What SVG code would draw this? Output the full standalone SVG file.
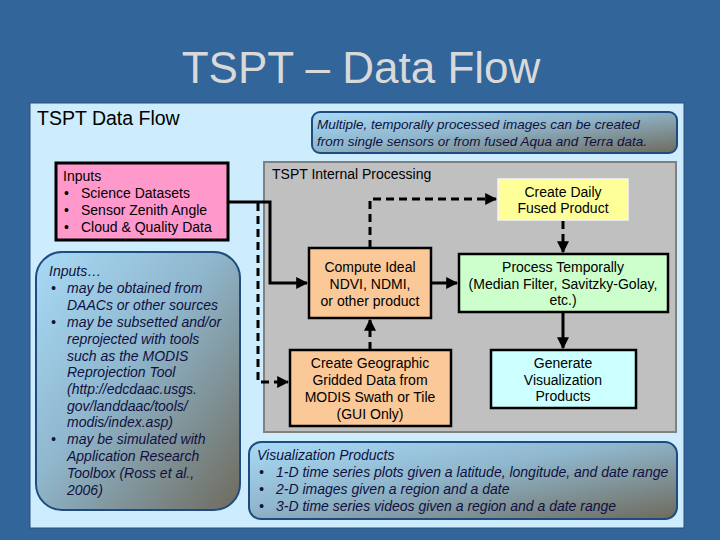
<svg xmlns="http://www.w3.org/2000/svg" width="720" height="540" viewBox="0 0 720 540">
<defs>
<linearGradient id="note" x1="0" y1="0" x2="1" y2="1">
<stop offset="0" stop-color="#A8DAF6"/>
<stop offset="0.45" stop-color="#8FB6CC"/>
<stop offset="1" stop-color="#6E6A5C"/>
</linearGradient>
<marker id="ah" viewBox="0 0 10 10" refX="9" refY="5" markerWidth="4" markerHeight="4" orient="auto" markerUnits="strokeWidth">
<path d="M0,0 L10,5 L0,10 z" fill="#000"/>
</marker>
<style>
text{font-family:"Liberation Sans",Arial,sans-serif;}
.box{stroke:#000;stroke-width:2.5;}
.t{font-size:14px;fill:#000;}
.c{text-anchor:middle;}
.n{font-size:14px;font-style:italic;fill:#101040;}
.rb{fill:url(#note);stroke:#1F4C80;stroke-width:2;}
.s{fill:none;stroke:#000;stroke-width:3;}
.d{fill:none;stroke:#000;stroke-width:3;stroke-dasharray:8,5;}
</style>
</defs>
<rect width="720" height="540" fill="#32659A"/>
<text x="361" y="83" class="c" style="font-size:44px;fill:#D9D9D9">TSPT – Data Flow</text>
<rect x="30" y="103" width="654" height="425" fill="#CDEDFE" stroke="#2A4F78" stroke-width="1"/>
<text x="37" y="125" style="font-size:19.5px;fill:#000">TSPT Data Flow</text>

<g id="note-top">
<rect class="rb" x="312" y="112" width="365" height="41" rx="8"/>
<text class="n" x="317" y="129" style="font-size:13.5px">Multiple, temporally processed images can be created</text>
<text class="n" x="317" y="146" style="font-size:13.5px">from single sensors or from fused Aqua and Terra data.</text>
</g>

<g id="internal">
<rect x="264" y="162" width="412" height="270" fill="#C0C0C0" stroke="#808080" stroke-width="2"/>
<text class="t" x="272" y="179">TSPT Internal Processing</text>
</g>

<g id="inputs">
<rect x="56" y="163" width="172" height="77" fill="#FF99CC" stroke="#000" stroke-width="3"/>
<text class="t" x="63" y="181">Inputs</text>
<text class="t" x="64" y="198">•</text><text class="t" x="81" y="198">Science Datasets</text>
<text class="t" x="64" y="215">•</text><text class="t" x="81" y="215">Sensor Zenith Angle</text>
<text class="t" x="64" y="232">•</text><text class="t" x="81" y="232">Cloud &amp; Quality Data</text>
</g>

<g id="inputs-note">
<rect class="rb" x="36" y="252" width="204" height="258" rx="26"/>
<text class="n" x="49" y="276">Inputs…</text>
<text class="n" x="51" y="293">•</text><text class="n" x="67" y="293">may be obtained from</text>
<text class="n" x="67" y="310">DAACs or other sources</text>
<text class="n" x="51" y="327">•</text><text class="n" x="67" y="327">may be subsetted and/or</text>
<text class="n" x="67" y="344">reprojected with tools</text>
<text class="n" x="67" y="361">such as the MODIS</text>
<text class="n" x="67" y="377">Reprojection Tool</text>
<text class="n" x="67" y="394">(http://edcdaac.usgs.</text>
<text class="n" x="67" y="411">gov/landdaac/tools/</text>
<text class="n" x="67" y="427">modis/index.asp)</text>
<text class="n" x="51" y="444">•</text><text class="n" x="67" y="444">may be simulated with</text>
<text class="n" x="67" y="461">Application Research</text>
<text class="n" x="67" y="478">Toolbox (Ross et al.,</text>
<text class="n" x="67" y="495">2006)</text>
</g>

<g id="create-daily">
<rect x="498" y="179" width="130" height="41" fill="#FFFF99" stroke="#F4F4F4" stroke-width="1.5"/>
<text class="t c" x="563" y="197">Create Daily</text>
<text class="t c" x="563" y="213">Fused Product</text>
</g>

<g id="compute">
<rect class="box" x="309" y="248" width="122" height="70" fill="#FBC897"/>
<text class="t c" x="370" y="272">Compute Ideal</text>
<text class="t c" x="370" y="289">NDVI, NDMI,</text>
<text class="t c" x="370" y="306">or other product</text>
</g>

<g id="process">
<rect class="box" x="459" y="254" width="209" height="58" fill="#CCFFCC"/>
<text class="t c" x="563" y="272">Process Temporally</text>
<text class="t c" x="563" y="289">(Median Filter, Savitzky-Golay,</text>
<text class="t c" x="563" y="305">etc.)</text>
</g>

<g id="geographic">
<rect class="box" x="290" y="350" width="161" height="76" fill="#FBC897"/>
<text class="t c" x="370" y="368">Create Geographic</text>
<text class="t c" x="370" y="385">Gridded Data from</text>
<text class="t c" x="370" y="402">MODIS Swath or Tile</text>
<text class="t c" x="370" y="419">(GUI Only)</text>
</g>

<g id="generate">
<rect class="box" x="491" y="350" width="145" height="58" fill="#CCFFFF"/>
<text class="t c" x="563" y="368">Generate</text>
<text class="t c" x="563" y="385">Visualization</text>
<text class="t c" x="563" y="401">Products</text>
</g>

<g id="vis-note">
<rect class="rb" x="249" y="442" width="428" height="77" rx="12"/>
<text class="n" x="257" y="460">Visualization Products</text>
<text class="n" x="259" y="477">•</text><text class="n" x="276" y="477">1-D time series plots given a latitude, longitude, and date range</text>
<text class="n" x="259" y="494">•</text><text class="n" x="276" y="494">2-D images given a region and a date</text>
<text class="n" x="259" y="511">•</text><text class="n" x="276" y="511">3-D time series videos given a region and a date range</text>
</g>

<g id="connectors">
<path class="s" d="M228,202 H270 V283 H307" marker-end="url(#ah)"/>
<path class="d" d="M258,203 V382 H288" marker-end="url(#ah)"/>
<path class="d" d="M370,248 V199 H496" marker-end="url(#ah)"/>
<path class="d" d="M563,221 V252" marker-end="url(#ah)"/>
<path class="s" d="M431,283 H457" marker-end="url(#ah)"/>
<path class="s" d="M563,312 V348" marker-end="url(#ah)"/>
<path class="d" d="M370,350 V320" marker-end="url(#ah)"/>
</g>
</svg>
